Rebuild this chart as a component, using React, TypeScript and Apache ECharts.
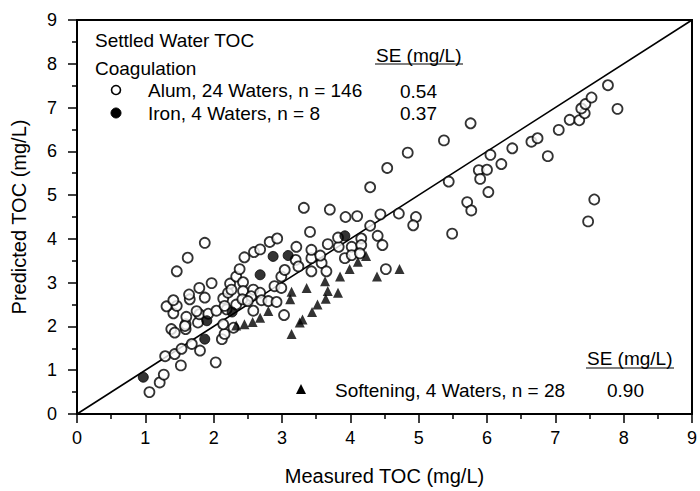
import React, { useEffect, useRef } from "react";
import * as echarts from "echarts";

const alumPoints: number[][] = [
  [1.06, 0.5], [1.21, 0.72], [1.27, 0.9], [1.52, 1.11], [2.03, 1.18], [1.29, 1.32], [1.43, 1.37],
  [1.53, 1.49], [1.8, 1.45], [1.68, 1.6], [2.12, 1.71], [2.16, 1.83], [1.38, 1.94], [1.43, 1.86],
  [1.59, 1.94], [1.59, 2.05], [1.77, 2.09], [2.14, 2.05], [2.29, 1.97], [1.6, 2.22], [1.41, 2.3],
  [1.58, 2.01], [1.79, 2.28], [1.92, 2.29], [2.04, 2.36], [2.19, 2.39], [2.33, 2.5], [2.58, 2.36],
  [1.31, 2.46], [1.46, 2.47], [1.65, 2.62], [1.41, 2.6], [1.64, 2.73], [1.87, 2.66], [1.79, 2.88],
  [1.97, 2.99], [1.46, 3.26], [1.62, 3.57], [1.87, 3.91], [1.75, 2.35], [2.14, 2.64], [2.21, 2.77],
  [2.24, 2.98], [2.33, 3.14], [2.38, 3.31], [2.43, 3.01], [2.45, 3.58], [2.59, 3.7], [2.68, 3.76],
  [2.82, 3.93], [2.93, 4.01], [2.43, 2.81], [2.26, 2.84], [2.58, 2.84], [2.42, 2.62], [2.55, 2.69],
  [2.68, 2.77], [2.7, 2.6], [2.8, 2.58], [2.92, 2.56], [2.5, 2.58], [2.16, 2.47], [2.99, 3.14],
  [3.04, 3.29], [2.89, 2.92], [2.99, 2.88], [3.03, 2.26],
  [3.21, 3.82], [3.2, 3.52], [3.24, 3.37], [3.43, 3.26], [3.58, 3.45], [3.65, 3.26], [3.43, 3.56],
  [3.56, 3.62], [3.43, 3.75], [3.67, 3.88], [3.83, 3.82], [3.82, 4.03], [4.02, 3.82], [4.16, 4.01],
  [4.16, 3.86], [3.92, 3.56], [4.02, 3.63], [4.14, 3.67], [3.41, 4.16], [4.29, 4.3], [4.4, 4.07],
  [4.47, 3.86], [4.52, 3.31], [3.32, 4.71], [3.7, 4.67], [3.93, 4.5], [4.1, 4.52], [4.44, 4.56],
  [4.71, 4.58], [4.96, 4.5], [4.92, 4.31], [4.29, 5.18], [4.54, 5.62], [4.84, 5.97], [5.37, 6.25],
  [5.76, 6.64], [5.44, 5.31], [5.49, 4.12], [5.71, 4.84], [5.77, 4.65], [5.88, 5.57], [5.9, 5.37],
  [6.0, 5.58], [6.05, 5.92], [6.21, 5.71], [6.02, 5.07], [6.37, 6.07], [6.65, 6.22], [6.74, 6.3],
  [6.89, 5.89], [7.05, 6.49], [7.21, 6.72], [7.35, 6.71], [7.43, 6.87], [7.38, 6.98], [7.44, 7.08],
  [7.53, 7.23], [7.77, 7.51], [7.91, 6.97], [7.57, 4.9], [7.48, 4.4],
];

const ironPoints: number[][] = [
  [0.97, 0.84], [1.87, 1.71], [1.9, 2.13], [2.27, 2.33], [2.68, 3.18], [2.87, 3.6], [3.09, 3.62], [3.92, 4.07],
];

const softeningPoints: number[][] = [
  [2.33, 2.02], [2.45, 2.05], [2.57, 2.1], [2.68, 2.2], [2.8, 2.35],
  [3.14, 1.83], [3.26, 2.09], [3.3, 2.16], [3.44, 2.33], [3.52, 2.5], [3.64, 2.63], [3.67, 2.81],
  [3.82, 2.77], [3.36, 2.88], [3.63, 3.03], [3.85, 3.14], [3.99, 3.31], [4.11, 3.48], [4.23, 3.61],
  [4.39, 3.14], [4.72, 3.31], [3.14, 2.79], [3.12, 2.62],
];

const oneToOneLine: number[][] = [[0, 0], [9, 9]];

const axisMin = 0;
const axisMax = 9;
const axisStep = 1;

const legendTitle = "Settled Water TOC";
const legendSubtitle = "Coagulation";
const alumLabel = "Alum, 24 Waters, n = 146";
const ironLabel = "Iron, 4 Waters, n = 8";
const softeningLabel = "Softening, 4 Waters, n = 28";
const seHeader = "SE (mg/L)";
const alumSE = "0.54";
const ironSE = "0.37";
const softeningSE = "0.90";

const FONT = "'Liberation Sans', Arial, Helvetica, sans-serif";

export default function App() {
  const ref = useRef<HTMLDivElement>(null);
  useEffect(() => {
    if (!ref.current) return;
    const chart = echarts.init(ref.current, null, { renderer: "svg" });
    const axisCommon = {
      type: "value" as const,
      min: axisMin,
      max: axisMax,
      interval: axisStep,
      nameLocation: "middle" as const,
      nameTextStyle: { fontFamily: FONT, fontSize: 20, color: "#000" },
      axisLine: { show: true, onZero: false, lineStyle: { color: "#000", width: 2 } },
      axisTick: { show: true, inside: false, length: 9, lineStyle: { color: "#000", width: 1.5 } },
      minorTick: { show: true, splitNumber: 2, length: 5, lineStyle: { color: "#000", width: 1.5 } },
      splitLine: { show: false },
      axisLabel: { fontFamily: FONT, fontSize: 18, color: "#000" },
    };
    const textStyle = (x: number, y: number, text: string, extra: any = {}) => ({
      type: "text",
      x,
      y,
      style: {
        text,
        fontFamily: FONT,
        fontSize: 19,
        fill: "#000",
        textVerticalAlign: "middle",
        verticalAlign: "middle",
        ...extra,
      },
      z: 100,
    });
    chart.setOption({
      animation: false,
      backgroundColor: "#fff",
      grid: {
        left: 77,
        right: 7,
        top: 20,
        bottom: 72,
        show: true,
        borderColor: "#000",
        borderWidth: 2,
        backgroundColor: "transparent",
      },
      xAxis: {
        ...axisCommon,
        name: "Measured TOC (mg/L)",
        nameGap: 52,
        axisLabel: { ...axisCommon.axisLabel, margin: 15 },
      },
      yAxis: {
        ...axisCommon,
        name: "Predicted TOC (mg/L)",
        nameGap: 48,
        axisLabel: { ...axisCommon.axisLabel, margin: 20 },
      },
      series: [
        {
          type: "line",
          data: oneToOneLine,
          symbol: "none",
          lineStyle: { color: "#000", width: 1.6 },
          z: 1,
          silent: true,
        },
        {
          type: "scatter",
          name: "Alum",
          data: alumPoints,
          symbol: "circle",
          symbolSize: 10,
          itemStyle: { color: "#fff", borderColor: "#000", borderWidth: 1.8 },
          z: 2,
        },
        {
          type: "scatter",
          name: "Iron",
          data: ironPoints,
          symbol: "circle",
          symbolSize: 10,
          itemStyle: { color: "#000", borderColor: "#000", borderWidth: 1 },
          z: 3,
        },
        {
          type: "scatter",
          name: "Softening",
          data: softeningPoints,
          symbol: "triangle",
          symbolSize: 10,
          itemStyle: { color: "#000" },
          z: 4,
        },
      ],
      graphic: [
        textStyle(95, 40, legendTitle),
        textStyle(95, 68, legendSubtitle),
        {
          type: "circle",
          shape: { cx: 116, cy: 90, r: 4.5 },
          style: { fill: "#fff", stroke: "#000", lineWidth: 1.6 },
          z: 100,
        },
        textStyle(148, 90, alumLabel),
        {
          type: "circle",
          shape: { cx: 116, cy: 113, r: 5 },
          style: { fill: "#000", stroke: "#000", lineWidth: 1 },
          z: 100,
        },
        textStyle(148, 113, ironLabel),
        textStyle(376, 55, seHeader),
        {
          type: "line",
          shape: { x1: 375, y1: 64, x2: 463, y2: 64 },
          style: { stroke: "#000", lineWidth: 1.2 },
          z: 100,
        },
        textStyle(400, 91, alumSE),
        textStyle(400, 113, ironSE),
        {
          type: "polygon",
          shape: { points: [[301, 384], [306, 394], [296, 394]] },
          style: { fill: "#000" },
          z: 100,
        },
        textStyle(335, 390, softeningLabel),
        textStyle(587, 358, seHeader),
        {
          type: "line",
          shape: { x1: 586, y1: 368, x2: 674, y2: 368 },
          style: { stroke: "#000", lineWidth: 1.2 },
          z: 100,
        },
        textStyle(607, 390, softeningSE),
      ],
    });
    return () => chart.dispose();
  }, []);
  return (
    <div
      ref={ref}
      style={{ position: "fixed", left: 0, top: 0, width: 700, height: 491, background: "#fff" }}
    />
  );
}
